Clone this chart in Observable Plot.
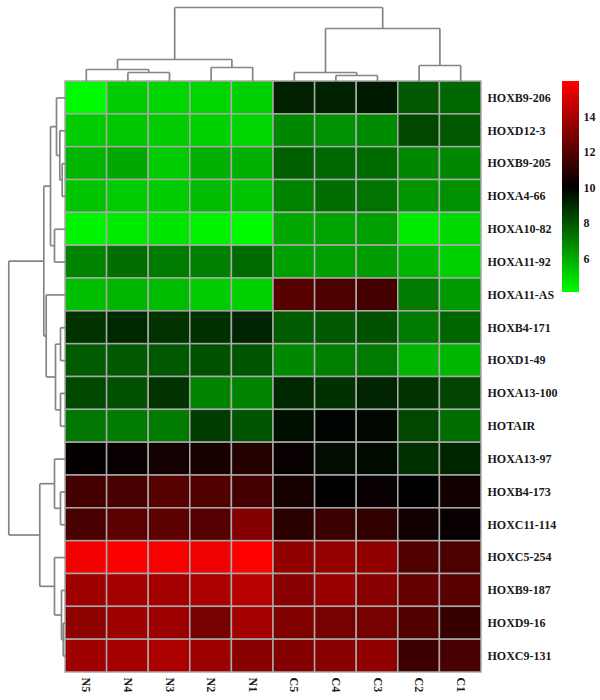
<!DOCTYPE html>
<html><head><meta charset="utf-8">
<script src="https://cdn.jsdelivr.net/npm/d3@7"></script>
<script src="https://cdn.jsdelivr.net/npm/@observablehq/plot@0.6"></script>
<style>
body{margin:0;background:#fff}
#wrap{position:relative;width:600px;height:700px}
#wrap svg{position:absolute;overflow:visible}
</style>
</head><body><div id="wrap"></div>
<script>
// ---- data ----
const samples = ["N5","N4","N3","N2","N1","C5","C4","C3","C2","C1"];
const genes = ["HOXB9-206","HOXD12-3","HOXB9-205","HOXA4-66","HOXA10-82","HOXA11-92","HOXA11-AS",
  "HOXB4-171","HOXD1-49","HOXA13-100","HOTAIR","HOXA13-97","HOXB4-173","HOXC11-114",
  "HOXC5-254","HOXB9-187","HOXD9-16","HOXC9-131"];
const expr = [
  [4.1,5.2,5.0,5.0,5.1,9.25,9.2,9.4,7.9,7.55],
  [5.2,5.3,5.2,5.1,5.0,6.8,6.6,6.7,8.3,7.9],
  [5.75,6.05,5.2,5.85,5.85,7.75,7.55,7.45,6.8,6.8],
  [5.4,5.2,5.2,5.6,5.4,6.9,7.4,7.3,6.5,6.6],
  [4.25,4.5,4.6,4.25,4.1,6.05,6.15,6.25,4.5,4.9],
  [6.9,7.4,7.1,7.0,7.45,6.25,6.25,6.3,5.75,5.1],
  [5.5,5.75,5.6,5.2,5.1,12.05,11.8,11.6,7.1,6.4],
  [8.8,9.05,8.8,8.85,9.15,7.85,7.9,8.1,7.1,7.65],
  [7.85,7.9,7.9,8.1,8.0,6.8,7.0,7.1,5.75,5.7],
  [8.3,8.1,8.8,6.9,6.9,9.05,8.85,9.15,8.8,8.4],
  [7.2,7.1,7.1,8.6,8.0,9.6,9.9,9.8,8.3,7.4],
  [10.1,10.2,10.45,10.55,10.85,10.2,9.7,9.75,8.9,9.1],
  [11.6,11.7,12.05,11.9,11.6,10.55,10.0,10.2,10.0,10.4],
  [11.7,12.2,12.2,12.0,13.1,11.0,11.4,11.2,10.4,10.2],
  [15.75,15.9,15.85,15.65,16.0,13.4,13.5,13.4,11.9,11.8],
  [13.75,13.85,13.85,14.05,14.3,13.2,13.6,13.2,12.35,12.1],
  [13.3,13.75,13.7,12.8,13.85,13.0,12.8,12.8,11.9,11.3],
  [13.75,13.85,14.05,13.7,13.2,13.1,13.2,13.4,11.4,11.7]
];
// dendrogram merges: [left, right, height]; strings = leaves, numbers = earlier merge index
const colMerges = [
  ["N4","N3",9], ["N5",0,12], ["N2","N1",14], [1,2,22],
  ["C4","C3",6], ["C5",4,9], ["C2","C1",16], [5,6,53], [3,7,74]
];
const rowMerges = [
  ["HOXB9-205","HOXA4-66",3.3], ["HOXD12-3",0,5.7], ["HOXB9-206",1,9],
  ["HOXA10-82","HOXA11-92",11], [2,3,15],
  ["HOXB4-171","HOXD1-49",5], ["HOXA13-100","HOTAIR",5], [5,6,10],
  ["HOXA11-AS",7,19.3], [4,8,21.7],
  ["HOXB4-173","HOXC11-114",5], ["HOXA13-97",10,11],
  ["HOXD9-16","HOXC9-131",2.3], ["HOXB9-187",12,4], ["HOXC5-254",13,11],
  [11,14,25.7], [9,15,56.7]
];
const legendTicks = [6,8,10,12,14];
const legendRange = [4.1,16];

// ---- build ----
const cells = [];
genes.forEach((g,i)=>samples.forEach((s,j)=>cells.push({gene:g,sample:s,row:i,col:j,value:expr[i][j]})));

const W=600,H=700, mL=65, mR=119, mT=81, mB=28;
const colPx=(W-mL-mR)/samples.length, rowPx=(H-mT-mB)/genes.length;

function dendro(merges, leaves){
  const nodes=[]; const segs=[];
  const get=k=> typeof k==="string" ? {pos:leaves.indexOf(k)+0.5,h:0} : nodes[k];
  for(const [a,b,h] of merges){
    const A=get(a),B=get(b);
    segs.push({p1:A.pos,h1:A.h,p2:A.pos,h2:h});
    segs.push({p1:B.pos,h1:B.h,p2:B.pos,h2:h});
    segs.push({p1:A.pos,h1:h,p2:B.pos,h2:h});
    nodes.push({pos:(A.pos+B.pos)/2,h});
  }
  return segs;
}
const topSegs=dendro(colMerges,samples);
const leftSegs=dendro(rowMerges,genes);
const kTop=1/rowPx, kLeft=1/colPx; // heights read in pixel-like units

const color={type:"linear",domain:[4,10,16],range:["#00ff00","#000000","#ff0000"],clamp:true};
const FF="'Liberation Serif', 'DejaVu Serif', serif";
const font={fontFamily:FF,fontSize:12,fontWeight:"bold",fill:"#1a1a1a"};

const main=Plot.plot({
  width:W,height:H,marginLeft:mL,marginRight:mR,marginTop:mT,marginBottom:mB,
  style:{fontFamily:FF,fontSize:"12px",fontWeight:"bold",background:"transparent"},
  x:{domain:[0,samples.length],axis:null},
  y:{domain:[0,genes.length],reverse:true,axis:null},
  color,
  marks:[
    Plot.rect(cells,{x1:"col",x2:d=>d.col+1,y1:"row",y2:d=>d.row+1,fill:"value",stroke:"#a9a9a9",strokeWidth:1.5}),
    Plot.link(topSegs,{x1:"p1",x2:"p2",y1:d=>-d.h1*kTop,y2:d=>-d.h2*kTop,stroke:"#858585",strokeWidth:1.7}),
    Plot.link(leftSegs,{y1:"p1",y2:"p2",x1:d=>-d.h1*kLeft,x2:d=>-d.h2*kLeft,stroke:"#858585",strokeWidth:1.7}),
    Plot.axisY(genes.map((g,i)=>i+0.5),{anchor:"right",tickSize:0,tickPadding:6,tickFormat:t=>genes[Math.floor(t)],...font}),
    Plot.axisX(samples.map((s,i)=>i+0.5),{anchor:"bottom",tickSize:0,tickPadding:5,tickRotate:90,tickFormat:t=>samples[Math.floor(t)],...font})
  ]
});
main.style.left="0px"; main.style.top="0px";

const step=0.05;
const legendSteps=d3.range(legendRange[0],legendRange[1],step);
const LW=50, LH=300, lmL=12, lmR=21, lmT=81, lmB=8;
const legend=Plot.plot({
  width:LW,height:LH,marginLeft:lmL,marginRight:lmR,marginTop:lmT,marginBottom:lmB,
  style:{fontFamily:FF,fontSize:"12px",fontWeight:"bold",background:"transparent"},
  x:{domain:[0,1],axis:null},
  y:{domain:legendRange,axis:null},
  color,
  marks:[
    Plot.rect(legendSteps,{x1:0,x2:1,y1:d=>d,y2:d=>Math.min(d+step*1.2,legendRange[1]),fill:d=>d+step/2,shapeRendering:"crispEdges"}),
    Plot.axisY(legendTicks,{anchor:"right",tickSize:0,tickPadding:4,...font})
  ]
});
legend.style.left="550px"; legend.style.top="0px";

const wrap=document.getElementById("wrap");
wrap.appendChild(main);
wrap.appendChild(legend);
</script>
</body></html>
